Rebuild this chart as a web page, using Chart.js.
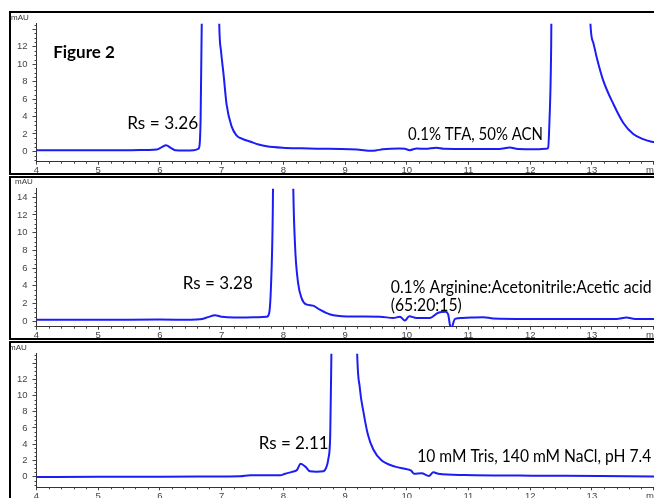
<!DOCTYPE html>
<html>
<head>
<meta charset="utf-8">
<script src="https://cdn.jsdelivr.net/npm/chart.js@4.4.1/dist/chart.umd.min.js"></script>
<style>
  body { margin: 0; width: 654px; height: 498px; overflow: hidden; background: #fff; position: relative; }
  .panel { position: absolute; left: 9px; width: 704px; border: 2px solid #000; box-sizing: border-box; overflow: hidden; background: #fff; }
  .panel canvas { position: absolute; left: 0; top: 0; }
</style>
</head>
<body>
<div class="panel" style="top:11px;height:164px"><canvas id="tfa" width="700" height="160"></canvas></div>
<div class="panel" style="top:176px;height:164px"><canvas id="arginine" width="700" height="160"></canvas></div>
<div class="panel" style="top:341px;height:170px"><canvas id="tris" width="700" height="156"></canvas></div>
<script>
// retention time (min) and absorbance (mAU)
const tfaTime = [4.0, 4.5, 5.0, 5.5, 5.8, 5.95, 6.03, 6.1, 6.17, 6.25, 6.4, 6.55, 6.62, 6.64, 6.66, 6.68, 6.72, 6.8, 6.88, 6.93, 6.96, 6.99, 7.03, 7.08, 7.16, 7.24, 7.35, 7.46, 7.6, 7.73, 7.99, 8.3, 8.54, 9.08, 9.3, 9.4, 9.5, 9.61, 9.88, 9.97, 10.05, 10.16, 10.3, 10.48, 10.6, 11.0, 11.5, 11.67, 11.8, 12.1, 12.26, 12.29, 12.31, 12.34, 12.37, 12.5, 12.7, 12.9, 12.97, 13.02, 13.08, 13.18, 13.35, 13.51, 13.67, 13.83, 13.95, 14.1, 14.5];
const tfaSignal = [0.15, 0.15, 0.15, 0.15, 0.18, 0.22, 0.5, 0.72, 0.45, 0.15, 0.12, 0.15, 0.3, 0.6, 4, 16, 50, 110, 80, 35, 15, 11.5, 8.9, 5.4, 2.9, 1.85, 1.4, 1.14, 0.8, 0.6, 0.43, 0.36, 0.32, 0.25, 0.15, 0.07, 0.12, 0.25, 0.35, 0.3, 0.15, 0.35, 0.3, 0.42, 0.3, 0.28, 0.28, 0.45, 0.28, 0.25, 0.3, 0.4, 3, 12, 40, 150, 160, 60, 15.5, 12.5, 10.7, 8.2, 5.4, 3.26, 2.0, 1.42, 1.14, 0.95, 0.7];

const arginineTime = [4.0, 5.0, 6.0, 6.5, 6.65, 6.78, 6.89, 7.0, 7.2, 7.4, 7.6, 7.73, 7.77, 7.8, 7.83, 7.86, 7.95, 8.05, 8.13, 8.16, 8.19, 8.24, 8.3, 8.37, 8.48, 8.59, 8.75, 9.03, 9.57, 9.78, 9.89, 9.97, 10.04, 10.16, 10.37, 10.51, 10.63, 10.67, 10.7, 10.72, 10.75, 10.78, 10.9, 11.24, 11.4, 11.94, 13.4, 13.56, 13.7, 14.0, 14.5];
const arginineSignal = [0.15, 0.15, 0.18, 0.15, 0.2, 0.45, 0.67, 0.5, 0.42, 0.42, 0.45, 0.5, 0.9, 4, 13, 40, 90, 90, 35, 15.5, 8.5, 4.27, 2.52, 1.89, 1.75, 1.3, 0.78, 0.53, 0.5, 0.35, 0.5, 0.07, 0.55, 0.35, 0.35, 0.95, 1.05, 0.78, -0.45, -1.0, -0.3, 0.25, 0.35, 0.45, 0.3, 0.25, 0.25, 0.4, 0.25, 0.25, 0.25];

const trisTime = [4.0, 5.0, 6.0, 7.0, 7.3, 7.46, 7.95, 8.03, 8.14, 8.22, 8.28, 8.36, 8.43, 8.54, 8.65, 8.7, 8.73, 8.76, 8.78, 8.85, 9.0, 9.12, 9.19, 9.24, 9.3, 9.37, 9.46, 9.59, 9.81, 10.03, 10.07, 10.12, 10.24, 10.36, 10.43, 10.51, 10.94, 12.04, 13.13, 14.0, 14.5];
const trisSignal = [-0.05, -0.03, -0.02, 0.0, 0.02, 0.15, 0.15, 0.35, 0.57, 0.8, 1.57, 1.2, 0.65, 0.6, 0.65, 1.22, 2.2, 5.2, 16, 60, 130, 60, 17, 10.9, 7.9, 5.2, 3.3, 2.0, 1.22, 0.85, 0.73, 0.35, 0.4, 0.08, 0.54, 0.34, 0.19, 0.11, 0.08, 0.0, -0.02];

const yTicks = [0, 2, 4, 6, 8, 10, 12, 14];

// text placed on each panel, in minutes / mAU; fit = widest the text may run, px
const tfaNotes = [
  { text: 'Figure 2', x: 4.27, y: 11.3, bold: true, fit: 62 },
  { text: 'Rs = 3.26', x: 5.47, y: 3.2, fit: 71 },
  { text: '0.1% TFA, 50% ACN', x: 10.02, y: 1.95, fit: 135 }
];
const arginineNotes = [
  { text: 'Rs = 3.28', x: 6.37, y: 4.25, fit: 70 },
  { text: '0.1% Arginine:Acetonitrile:Acetic acid', x: 9.74, y: 3.85, fit: 261 },
  { text: '(65:20:15)', x: 9.74, y: 1.75, fit: 71 }
];
const trisNotes = [
  { text: 'Rs = 2.11', x: 7.6, y: 4.1, fit: 70 },
  { text: '10 mM Tris, 140 mM NaCl, pH 7.4', x: 10.17, y: 2.5, fit: 234 }
];

const tickFont = { family: '"Liberation Sans", Arial, sans-serif', size: 9.5 };

const panelDeco = {
  id: 'panelDeco',
  afterDraw(chart, args, opts) {
    const { ctx, chartArea } = chart;
    const x = chart.scales.x, y = chart.scales.y;
    ctx.save();
    // minor ticks
    ctx.strokeStyle = '#444';
    ctx.lineWidth = 1;
    ctx.beginPath();
    for (let i = Math.ceil(x.min * 5); i <= x.max * 5; i++) {
      if (i % 5 === 0) continue;
      const px = Math.round(x.getPixelForValue(i / 5)) + 0.5;
      ctx.moveTo(px, chartArea.bottom);
      ctx.lineTo(px, chartArea.bottom + 2);
    }
    for (let i = Math.ceil(y.min * 2); i <= y.max * 2; i++) {
      if (i % 4 === 0) continue;
      const py = Math.round(y.getPixelForValue(i / 2)) + 0.5;
      ctx.moveTo(chartArea.left, py);
      ctx.lineTo(chartArea.left - 2, py);
    }
    ctx.stroke();
    // unit label
    ctx.font = '8px "Liberation Sans", Arial, sans-serif';
    ctx.fillStyle = '#333';
    ctx.textAlign = 'center';
    ctx.textBaseline = 'middle';
    ctx.fillText('mAU', opts.mau[0], opts.mau[1]);
    // annotations
    ctx.fillStyle = '#000';
    ctx.textAlign = 'left';
    for (const n of opts.notes) {
      ctx.font = n.bold ? 'bold 17px Lato, sans-serif' : '18px Lato, sans-serif';
      ctx.fillText(n.text, x.getPixelForValue(n.x), y.getPixelForValue(n.y), n.fit);
    }
    ctx.restore();
  }
};

function chromatogram(id, time, signal, yMin, yMax, axisHeight, notes, mau, show14) {
  const ctx = document.getElementById(id).getContext('2d');
  return new Chart(ctx, {
    type: 'line',
    data: {
      datasets: [{
        data: time.map((t, i) => ({ x: t, y: signal[i] })),
        borderColor: '#1c1cf5',
        borderWidth: 2,
        pointRadius: 0,
        cubicInterpolationMode: 'monotone',
        fill: false
      }]
    },
    options: {
      responsive: false,
      animation: false,
      layout: { padding: 0 },
      plugins: {
        legend: { display: false },
        tooltip: { enabled: false },
        panelDeco: { notes: notes, mau: mau }
      },
      scales: {
        x: {
          type: 'linear',
          min: 4,
          max: 14.93,
          afterFit: s => { s.height = axisHeight; },
          border: { color: '#333', width: 1 },
          grid: { drawOnChartArea: false, tickLength: 3, color: '#444' },
          ticks: {
            stepSize: 1,
            includeBounds: false,
            autoSkip: false,
            maxRotation: 0,
            padding: 0,
            font: tickFont,
            color: '#444',
            callback: v => (v === 14 ? 'min' : v)
          }
        },
        y: {
          min: yMin,
          max: yMax,
          afterFit: s => { s.width = 25.5; },
          afterBuildTicks: s => { s.ticks = yTicks.filter(v => v >= yMin && v <= yMax).map(v => ({ value: v })); },
          border: { color: '#333', width: 1 },
          grid: { drawOnChartArea: false, tickLength: 4, color: '#444' },
          ticks: {
            includeBounds: false,
            padding: 5,
            font: tickFont,
            color: '#444',
            callback: v => (v === 14 && !show14 ? '' : v)
          }
        }
      }
    },
    plugins: [panelDeco]
  });
}

chromatogram('tfa', tfaTime, tfaSignal, -1.17, 14.62, 11.3, tfaNotes, [9, 5], false);
chromatogram('arginine', arginineTime, arginineSignal, -0.63, 14.97, 11.3, arginineNotes, [13, 4], true);
chromatogram('tris', trisTime, trisSignal, -1.33, 15.17, 11.7, trisNotes, [7, 5], false);
</script>
</body>
</html>
